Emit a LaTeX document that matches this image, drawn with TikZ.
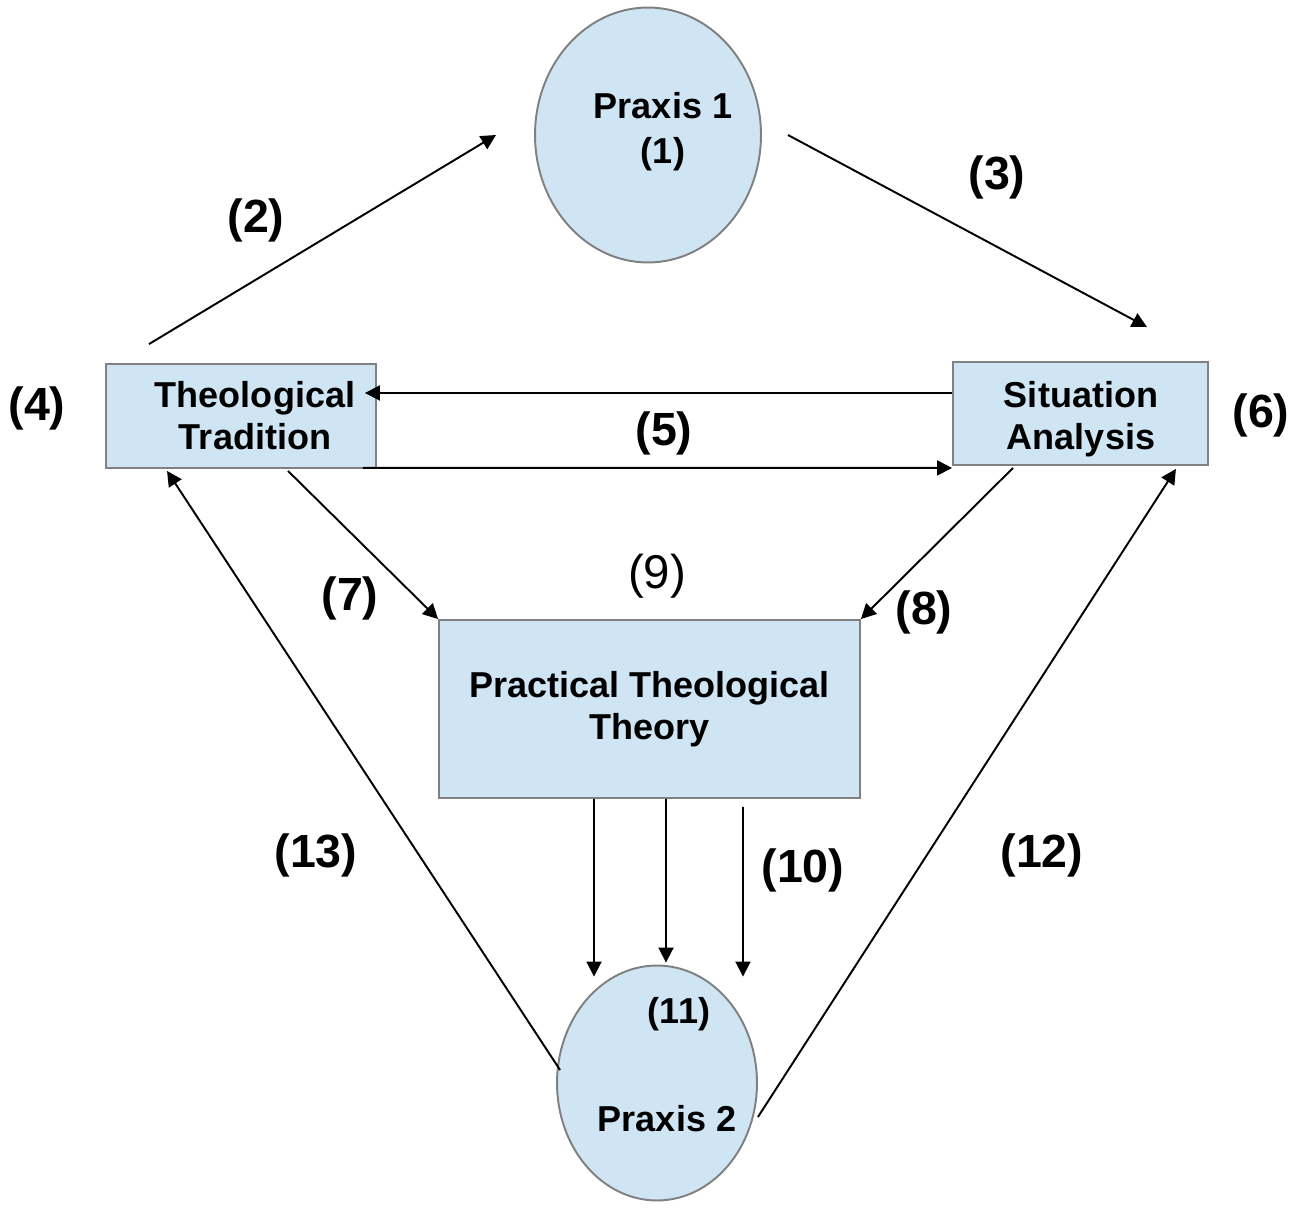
\documentclass[tikz,border=0pt]{standalone}
\usepackage{fontspec}
\setmainfont{Liberation Sans}
\usepackage{tikz}
\usetikzlibrary{calc, shapes.geometric, arrows.meta}
\definecolor{cell fill}{RGB}{207,229,243}
\colorlet{cell line}{black!50}
\tikzset{box/.style={draw=cell line, fill=cell fill, line width=1.1pt, inner sep=0pt}}
\tikzset{blob/.style={ellipse, draw=cell line, fill=cell fill, line width=1.1pt, inner sep=0pt}}
\tikzset{name text/.style={font=\bfseries\fontsize{20.5}{24}\selectfont, align=center, inner sep=0pt}}
\tikzset{tag/.style={font=\bfseries\fontsize{26.5}{30}\selectfont, inner sep=0pt}}
\tikzset{link/.style={line width=1.1pt, -{Triangle[length=0.3cm, width=0.3cm]}}}

\begin{document}
\begin{tikzpicture}[x=0.02cm, y=-0.02cm]
                \useasboundingbox (0, 0) rectangle (1303, 1209);
                \node[blob, minimum width=4.52cm, minimum height=5.1cm] (p1) at (648, 135) {};
                \node[blob, minimum width=4cm, minimum height=4.7cm] (p2) at (657, 1083) {};
                \node[box, minimum width=5.4cm, minimum height=2.08cm] (tt) at (241, 416) {};
                \node[box, minimum width=5.1cm, minimum height=2.06cm] (sa) at (1080.5, 413.5) {};
                \node[box, minimum width=8.42cm, minimum height=3.56cm, name text] (ptt) at (649.5, 709) {Practical Theological\\Theory};
                \node[name text] (ttl) at (255, 416) {Theological\\Tradition};
                \node[name text] (sal) at (1081, 419) {Situation\\Analysis};
                \node[name text, font=\bfseries\fontsize{20.5}{25.6}\selectfont] (p1l) at (663, 132) {Praxis 1\\(1)};
                \node[name text] (p2n) at (679, 1014) {(11)};
                \node[name text] (p2l) at (667, 1119) {Praxis 2};
                % numbered steps
                \node[tag] (n2) at (256, 220) {(2)};
                \node[tag] (n3) at (997, 177) {(3)};
                \node[tag] (n4) at (37, 408) {(4)};
                \node[tag] (n5) at (664, 433) {(5)};
                \node[tag] (n6) at (1261, 415) {(6)};
                \node[tag] (n7) at (350, 598) {(7)};
                \node[tag] (n8) at (924, 612) {(8)};
                \node[inner sep=0pt, font=\fontsize{27}{30}\selectfont] (n9) at (657, 576) {(9)};
                \node[tag] (n10) at (803, 870) {(10)};
                \node[tag] (n12) at (1042, 855) {(12)};
                \node[tag] (n13) at (316, 855) {(13)};
                % connectors
                \draw[link] ($(tt.north west)+(44, -19)$) -- ($(p1.west)+(-38, 0)$);
                \draw[link] ($(p1.east)+(26, 0)$) -- ($(sa.north)+(66.5, -34)$);
                \draw[link] ($(sa.west)+(0, -20.5)$) -- ($(tt.east)+(-12, -23)$);
                \draw[link] ($(tt.south east)+(-14, -1)$) -- ($(sa.south west)+(0, 2)$);
                \draw[link] ($(tt.south)+(47, 2)$) -- (ptt.north west);
                \draw[link] ($(sa.south)+(-67.5, 2)$) -- (ptt.north east);
                \draw[link] ($(ptt.south)+(-55.5, 0)$) -- ($(p2.north)+(-63, 12)$);
                \draw[link] ($(ptt.south)+(16.5, 0)$) -- ($(p2.north)+(9, -2)$);
                \draw[link] ($(ptt.south)+(93.5, 8)$) -- ($(p2.north)+(86, 12)$);
                \draw[link] ($(p2.west)+(4, -13)$) -- ($(tt.south west)+(62, 2)$);
                \draw[link] ($(p2.east)+(0, 34)$) -- ($(sa.south east)+(-33, 3)$);
            \end{tikzpicture}
\end{document}
